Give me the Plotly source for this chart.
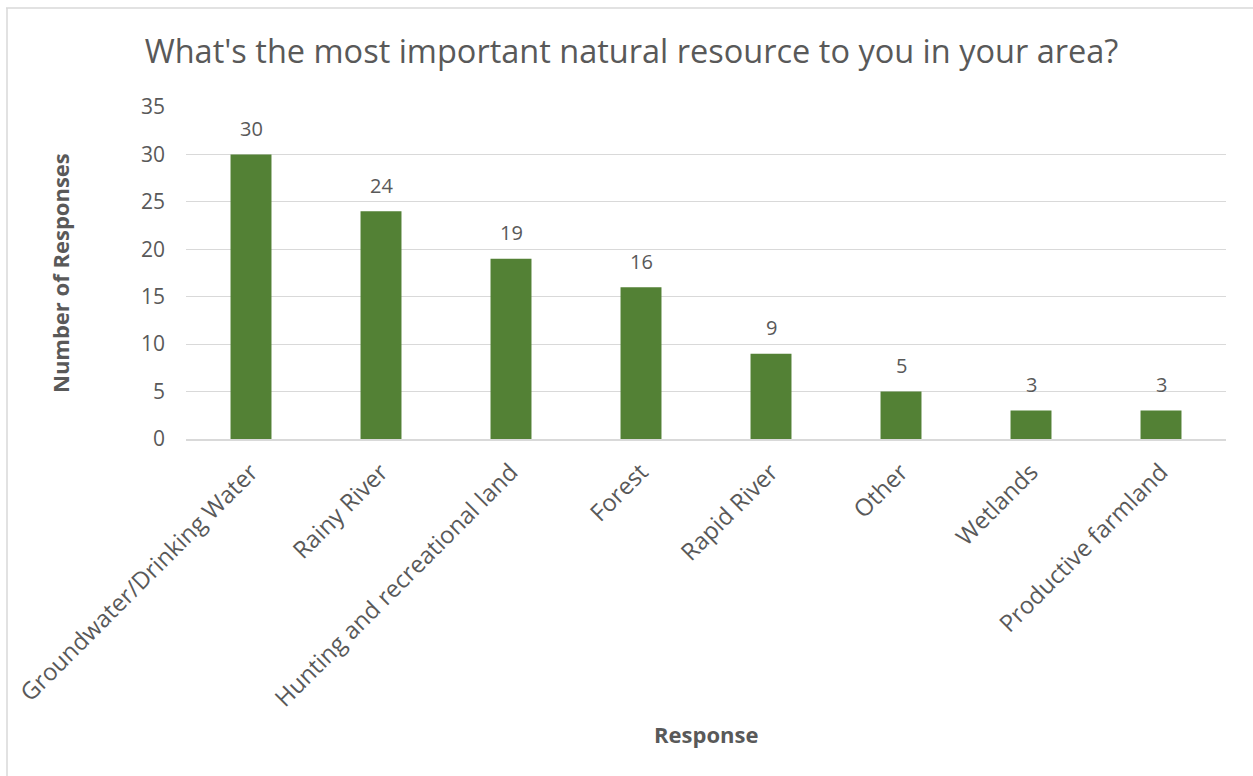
import plotly.graph_objects as go

categories = ["Groundwater/Drinking Water", "Rainy River", "Hunting and recreational land",
              "Forest", "Rapid River", "Other", "Wetlands", "Productive farmland"]
values = [30, 24, 19, 16, 9, 5, 3, 3]
y_ticks = [0, 5, 10, 15, 20, 25, 30, 35]

FONT = "Open Sans"
GREY = "#595959"

L, R, T, B = 186, 27, 107, 337
W, H = 1253, 776
pw, ph = W - L - R, H - T - B

def px_x(px):
    return (px - L) / pw

def px_y(py):
    return (H - B - py) / ph

fig = go.Figure(go.Bar(
    x=categories, y=values,
    marker=dict(color="#538135", line=dict(width=0)),
    width=0.315,
    hoverinfo="x+y",
))

for c, v in zip(categories, values):
    fig.add_annotation(x=c, y=v, text=str(v), showarrow=False, yshift=26,
                       xanchor="center", yanchor="middle",
                       font=dict(family=FONT, size=20, color=GREY))

fig.update_layout(
    width=W, height=H,
    margin=dict(l=L, r=R, t=T, b=B),
    paper_bgcolor="white", plot_bgcolor="white",
    title=dict(text="What's the most important natural resource to you in your area?",
               x=(145 + 1118) / 2 / W, xanchor="center", y=1 - 52 / H, yanchor="middle",
               font=dict(family=FONT, size=32.5, color=GREY)),
    font=dict(family=FONT, color=GREY),
    showlegend=False,
    xaxis=dict(tickangle=-45, tickfont=dict(family=FONT, size=23.8, color=GREY),
               showline=True, linecolor="#d9d9d9", linewidth=1.5, ticks="",
               ticklabelstandoff=8),
    yaxis=dict(range=[0, 35], tickvals=y_ticks, showgrid=True, gridcolor="#d9d9d9", gridwidth=1.2,
               zeroline=False, tickfont=dict(family=FONT, size=21, color=GREY), ticks="",
               ticklabelstandoff=20),
    shapes=[
        dict(type="line", xref="paper", yref="paper", x0=px_x(6), x1=px_x(1260), y0=px_y(8), y1=px_y(8),
             line=dict(color="#d9d9d9", width=1.5)),
        dict(type="line", xref="paper", yref="paper", x0=px_x(7), x1=px_x(7), y0=px_y(8), y1=px_y(790),
             line=dict(color="#d9d9d9", width=1.5)),
    ],
)

fig.add_annotation(text="<b>Response</b>", xref="paper", yref="paper", x=px_x(706), y=px_y(734),
                   showarrow=False, font=dict(family=FONT, size=22, color=GREY),
                   xanchor="center", yanchor="middle")
fig.add_annotation(text="<b>Number of Responses</b>", xref="paper", yref="paper", x=px_x(60), y=px_y(273),
                   showarrow=False, textangle=-90, font=dict(family=FONT, size=22, color=GREY),
                   xanchor="center", yanchor="middle")

fig.write_html("out.html")
